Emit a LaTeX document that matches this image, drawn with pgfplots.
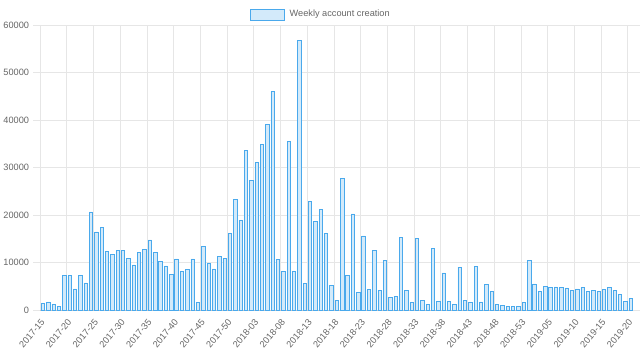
\documentclass[border=0pt]{standalone}
\usepackage{pgfplots}
\pgfplotsset{compat=1.18}
\usepackage{fontspec}
\setmainfont{Liberation Sans}
\definecolor{barfill}{HTML}{D3EAFA}
\definecolor{barline}{HTML}{4AA9EC}
\definecolor{gridc}{HTML}{E6E6E6}
\definecolor{zeroc}{HTML}{C4C4C4}
\definecolor{txt}{HTML}{666666}
\pgfplotstableread{
idx val
0 1400
1 1700
2 1250
3 700
4 7200
5 7200
6 4450
7 7250
8 5700
9 20650
10 16450
11 17400
12 12300
13 11700
14 12500
15 12600
16 10850
17 9500
18 12100
19 12800
20 14750
21 12050
22 10150
23 9300
24 7500
25 10750
26 8200
27 8550
28 10750
29 1600
30 13450
31 9750
32 8650
33 11300
34 10950
35 16200
36 23350
37 18800
38 33650
39 27200
40 31000
41 34800
42 39000
43 45950
44 10650
45 8050
46 35450
47 8050
48 56750
49 5550
50 22850
51 18650
52 21200
53 16150
54 5100
55 1950
56 27700
57 7300
58 20250
59 3650
60 15600
61 4400
62 12500
63 4050
64 10400
65 2600
66 2950
67 15250
68 4200
69 1550
70 15100
71 2100
72 1250
73 13050
74 1900
75 7800
76 1900
77 1250
78 9050
79 2100
80 1650
81 9200
82 1700
83 5400
84 3950
85 1200
86 900
87 700
88 800
89 800
90 1600
91 10400
92 5500
93 3950
94 4900
95 4750
96 4850
97 4800
98 4650
99 4100
100 4450
101 4700
102 3900
103 4100
104 3950
105 4350
106 4800
107 4100
108 3250
109 1850
110 2450
}\weekly
\begin{document}
\begin{tikzpicture}
\begin{axis}[
  at={(0,0)}, anchor=south west,
  scale only axis, width=444.75pt, height=213.75pt,
  xmin=-0.5, xmax=110.5, ymin=0, ymax=60000,
  axis line style={draw=none},
  tick align=outside,
  major tick length=5.6pt,
  xtick={0,5,...,110},
  xticklabels={2017-15,2017-20,2017-25,2017-30,2017-35,2017-40,2017-45,2017-50,2018-03,2018-08,2018-13,2018-18,2018-23,2018-28,2018-33,2018-38,2018-43,2018-48,2018-53,2019-05,2019-10,2019-15,2019-20},
  xtick style={draw=none},
  extra x ticks={-0.5,4.5,...,109.5},
  extra x tick labels={},
  extra x tick style={xmajorgrids=true, major grid style={draw=gridc, line width=0.75pt}, tick style={draw=gridc, line width=0.75pt}},
  ytick={10000,20000,30000,40000,50000,60000},
  yticklabels={10000,20000,30000,40000,50000,60000},
  ymajorgrids=true,
  major grid style={draw=gridc, line width=0.75pt},
  ytick style={draw=gridc, line width=0.75pt},
  extra y ticks={0},
  extra y tick labels={0},
  extra y tick style={ymajorgrids=true, major grid style={draw=zeroc, line width=0.75pt}, tick style={draw=gridc, line width=0.75pt}},
  scaled y ticks=false,
  ticklabel style={font=\fontsize{6.9}{8}\selectfont, text=txt},
  yticklabel style={anchor=east, inner sep=0pt, xshift=-2.6pt},
  xticklabel style={rotate=50, anchor=east, inner sep=0pt},
  xticklabel shift=1.9pt,
  legend style={at={(0.4717,1.037)}, anchor=center, draw=none, fill=none, inner sep=0pt,
    font=\fontsize{6.9}{8}\selectfont, text=txt, nodes={inner sep=0.5pt}},
  legend image code/.code={\draw[fill=barfill,draw=barline,line width=0.5pt] (0pt,-4.1pt) rectangle (25.5pt,4.1pt); \path (29pt,0pt);},
]
\addplot[ybar, bar width=0.64, fill=barfill, draw=barline, line width=0.5pt] table[x=idx,y=val] {\weekly};
\addlegendentry{Weekly account creation}
\end{axis}
\pgfresetboundingbox
\path (-30.2pt,-38.25pt) rectangle (449.75pt,232.5pt);
\end{tikzpicture}
\end{document}
